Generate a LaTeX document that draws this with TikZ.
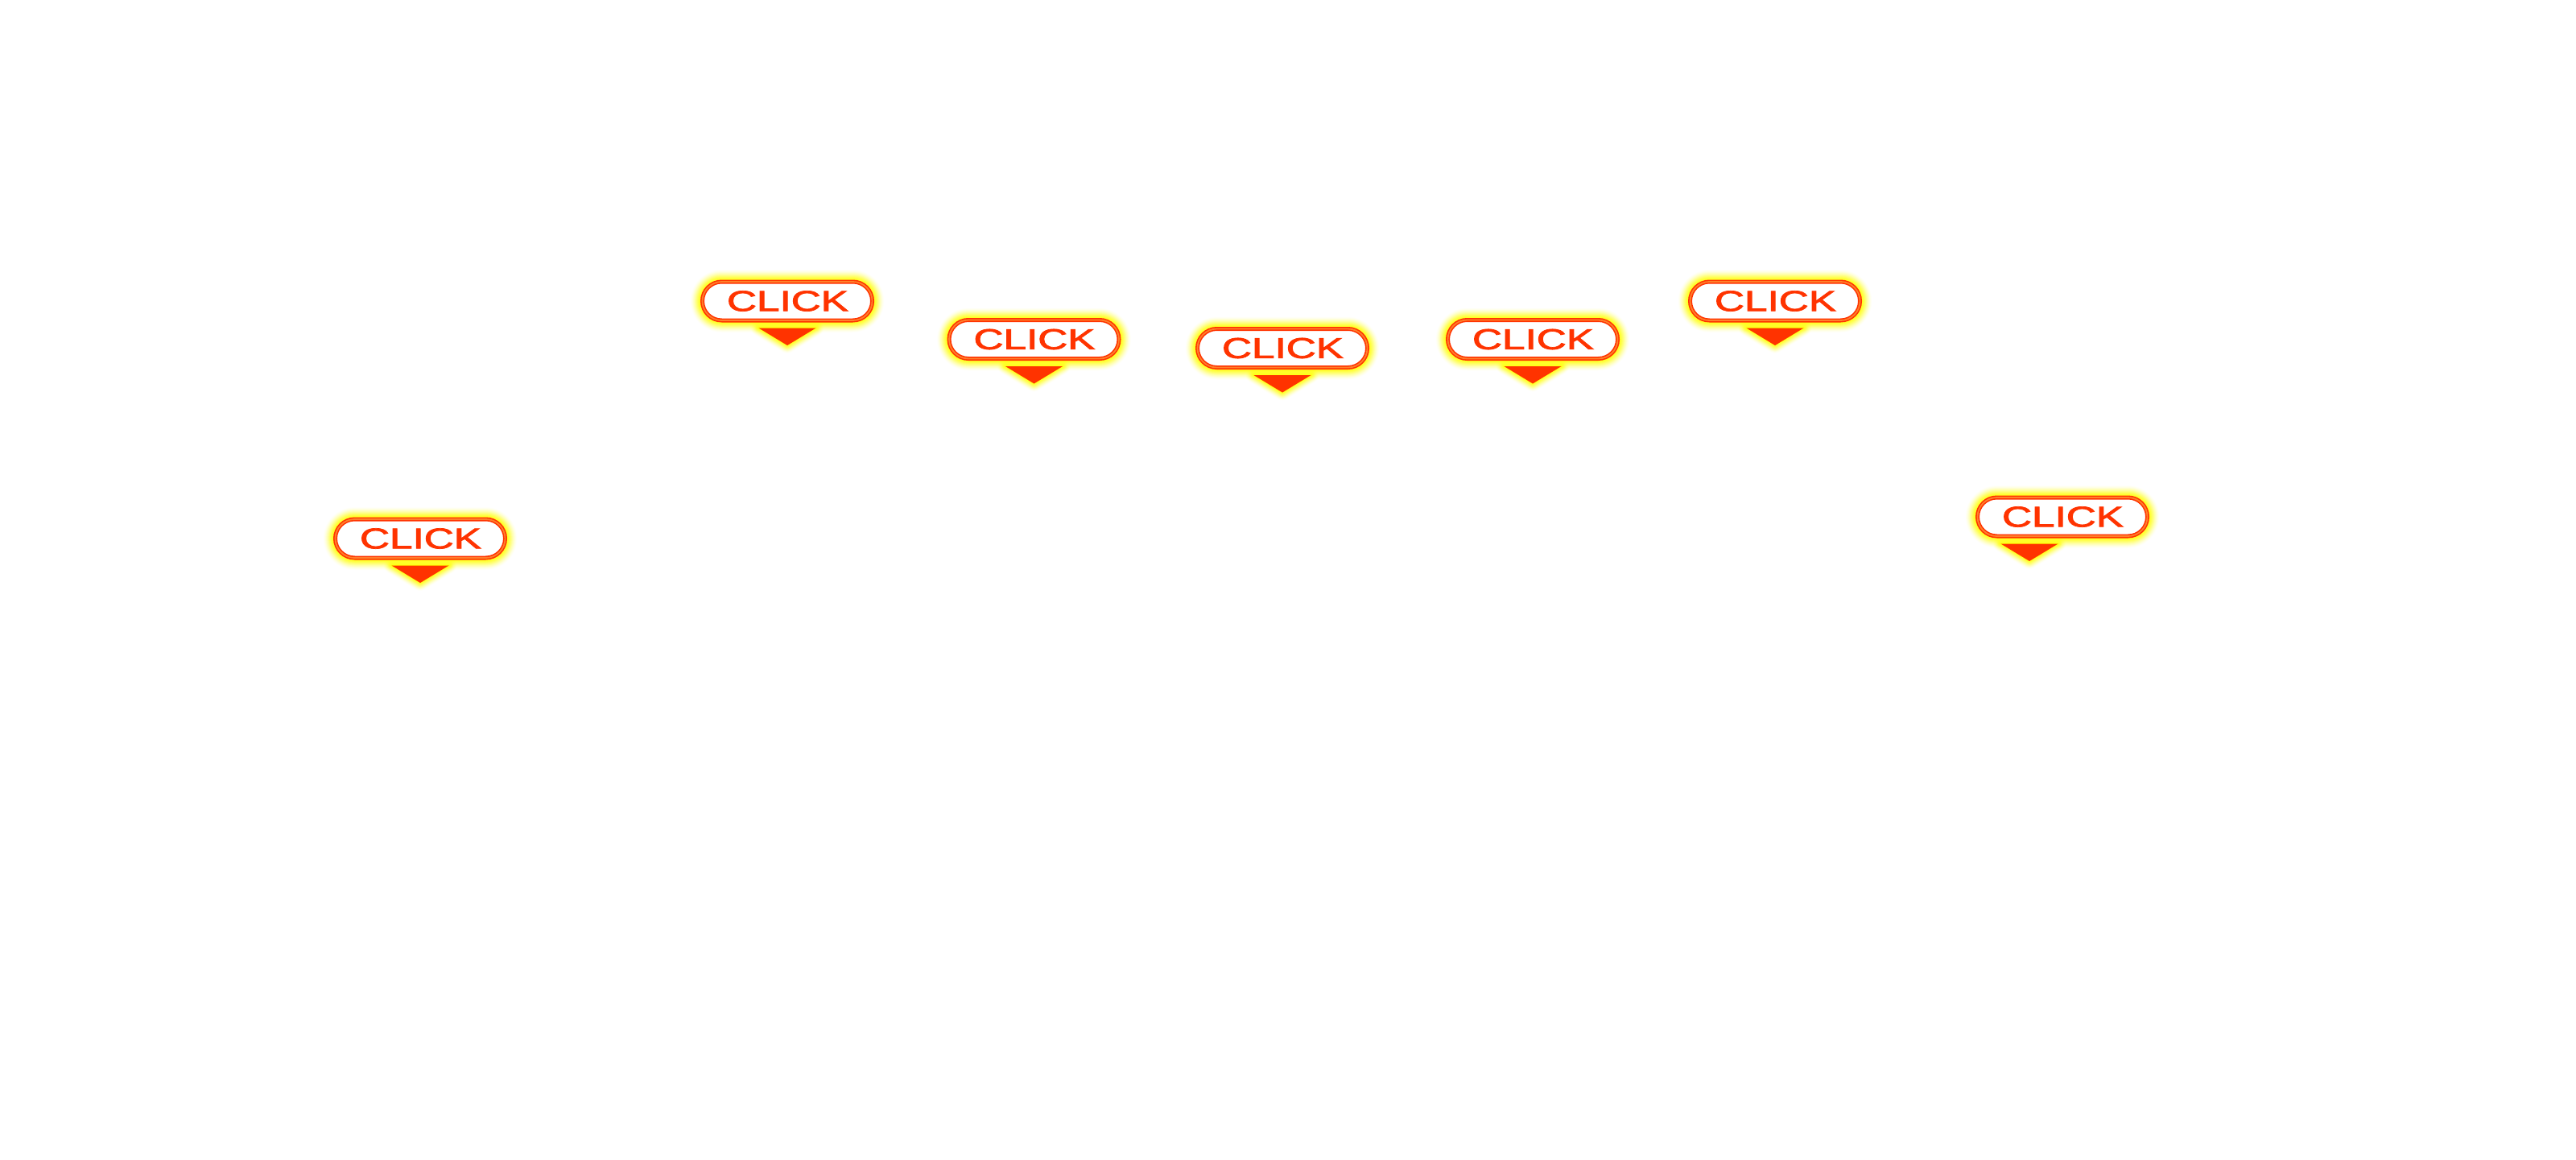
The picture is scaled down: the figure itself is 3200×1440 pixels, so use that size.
\documentclass[tikz,border=0pt]{standalone}
\usepackage{graphicx}
\usepackage{fontspec}
\setmainfont{Liberation Sans}
\newfontfamily\clickfont[FakeBold=2]{Liberation Sans}
\definecolor{clickred}{HTML}{FF3300}
\definecolor{clickmid}{HTML}{FF7F2A}
\definecolor{glowy}{HTML}{FFFF00}
\tikzset{
  glowring/.style={draw=glowy,rounded corners=24pt,line join=round},
  glowtri/.style={draw=glowy,fill=glowy,line join=round},
  clickbtn/.style={draw=clickred,line width=5pt,fill=white,rounded corners=24pt,
    minimum width=211pt,minimum height=48pt,inner sep=0pt},
  clickring/.style={draw=clickmid,line width=1.8pt,rounded corners=24pt},
  clicktext/.style={inner sep=0pt,text=clickred,font=\clickfont},
  clicktri/.style={fill=clickred,draw=none}
}
% name, button centre x, y, offset of the pointer from the centre
\newcommand{\clickmark}[4]{%
  \begin{scope}[shift={(#2,#3)}]
    \foreach \w [evaluate=\w as \o using {0.015+0.13*((30-\w)/24)^1.5}] in {6,7,...,30} {
      \draw[glowring,opacity=\o,line width=\w pt] (-105.5,-24) rectangle (105.5,24);
    }
    \foreach \w [evaluate=\w as \o using {0.015+0.16*((21-\w)/20)^1.5}] in {1,2,...,20} {
      \draw[glowtri,opacity=\o,line width=\w pt] (#4-35.5,33.5) -- (#4+35.5,33.5) -- (#4,55) -- cycle;
    }
    \node[clickbtn] (#1) at (0,0) {};
    \draw[clickring] (-105.5,-24) rectangle (105.5,24);
    \node[clicktext] (#1t) at (0.5,0) {\resizebox{151pt}{25pt}{CLICK}};
    \fill[clicktri] (#4-35.5,33.5) -- (#4+35.5,33.5) -- (#4,55) -- cycle;
  \end{scope}
}
\begin{document}
\begin{tikzpicture}[x=1pt,y=-1pt]
\fill[white] (0,0) rectangle (3200,1440);
\useasboundingbox (0,0) rectangle (3200,1440);
\clickmark{a}{522}{669}{0}
\clickmark{b}{978}{374}{0}
\clickmark{c}{1284.5}{421.5}{0}
\clickmark{d}{1593}{432.5}{0}
\clickmark{e}{1904}{421.5}{0}
\clickmark{f}{2205}{374}{0}
\clickmark{g}{2562}{642}{-41}
\end{tikzpicture}
\end{document}
